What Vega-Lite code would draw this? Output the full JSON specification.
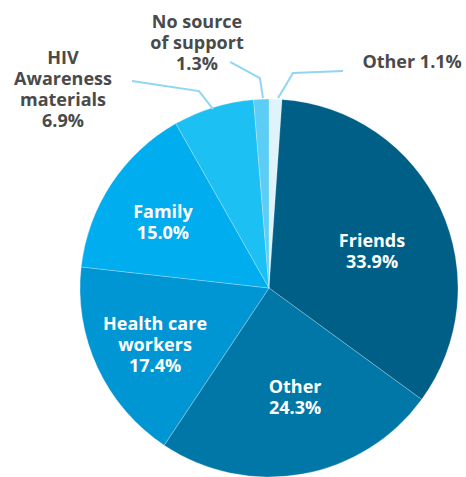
{
  "$schema": "https://vega.github.io/schema/vega-lite/v6.json",
  "width": 378,
  "height": 378,
  "autosize": {"type": "none"},
  "padding": {"left": 80, "top": 99, "right": 8, "bottom": 0},
  "background": "#ffffff",
  "config": {"view": {"stroke": null}, "text": {"font": "Open Sans"}},
  "datasets": {
    "slices": [
      {"key": "Other (small)", "share": 1.1, "rank": 1},
      {"key": "Friends", "share": 33.9, "rank": 2},
      {"key": "Other", "share": 24.3, "rank": 3},
      {"key": "Health care workers", "share": 17.4, "rank": 4},
      {"key": "Family", "share": 15.0, "rank": 5},
      {"key": "HIV Awareness materials", "share": 6.9, "rank": 6},
      {"key": "No source of support", "share": 1.3, "rank": 7}
    ],
    "labels": [
      {"text": "Friends\n33.9%", "u": 0.545, "v": 0.246, "placement": "inside"},
      {"text": "Other\n24.3%", "u": 0.138, "v": -0.529, "placement": "inside"},
      {"text": "Health care\nworkers\n17.4%", "u": -0.603, "v": -0.198, "placement": "inside"},
      {"text": "Family\n15.0%", "u": -0.561, "v": 0.397, "placement": "inside"},
      {"text": "HIV\nAwareness\nmaterials\n6.9%", "u": -1.09, "v": 1.209, "placement": "outside"},
      {"text": "No source\nof support\n1.3%", "u": -0.381, "v": 1.402, "placement": "outside"},
      {"text": "Other 1.1%", "u": 0.757, "v": 1.19, "placement": "outside"}
    ],
    "leaders": [
      {"slice": "No source", "seq": 1, "u": -0.206, "v": 1.196},
      {"slice": "No source", "seq": 2, "u": -0.048, "v": 1.111},
      {"slice": "No source", "seq": 3, "u": -0.032, "v": 1.005},
      {"slice": "Other small", "seq": 1, "u": 0.392, "v": 1.148},
      {"slice": "Other small", "seq": 2, "u": 0.127, "v": 1.138},
      {"slice": "Other small", "seq": 3, "u": 0.048, "v": 1.005},
      {"slice": "HIV", "seq": 1, "u": -0.725, "v": 1.095},
      {"slice": "HIV", "seq": 2, "u": -0.37, "v": 1.042},
      {"slice": "HIV", "seq": 3, "u": -0.296, "v": 0.947}
    ]
  },
  "layer": [
    {
      "data": {"name": "slices"},
      "mark": {"type": "arc", "stroke": "#ffffff", "strokeWidth": 0.4, "strokeOpacity": 0.6},
      "encoding": {
        "theta": {"field": "share", "type": "quantitative", "stack": true},
        "order": {"field": "rank", "type": "quantitative"},
        "color": {
          "field": "key",
          "type": "nominal",
          "legend": null,
          "scale": {
            "domain": ["Other (small)", "Friends", "Other", "Health care workers", "Family", "HIV Awareness materials", "No source of support"],
            "range": ["#dff3fb", "#005f87", "#0077a6", "#0096d4", "#00adee", "#1cc0f2", "#5ccdf5"]
          }
        }
      }
    },
    {
      "data": {"name": "leaders"},
      "mark": {"type": "line", "color": "#8fd6f3", "strokeWidth": 2},
      "encoding": {
        "x": {"field": "u", "type": "quantitative", "axis": null, "scale": {"domain": [-1, 1], "nice": false, "zero": false}},
        "y": {"field": "v", "type": "quantitative", "axis": null, "scale": {"domain": [-1, 1], "nice": false, "zero": false}},
        "detail": {"field": "slice"},
        "order": {"field": "seq", "type": "quantitative"}
      }
    },
    {
      "data": {"name": "labels"},
      "transform": [{"filter": "datum.placement === 'inside'"}],
      "mark": {"type": "text", "fontSize": 18, "fontWeight": "bold", "color": "#ffffff", "align": "center", "baseline": "middle", "lineBreak": "\n", "lineHeight": 21},
      "encoding": {
        "x": {"field": "u", "type": "quantitative", "axis": null, "scale": {"domain": [-1, 1], "nice": false, "zero": false}},
        "y": {"field": "v", "type": "quantitative", "axis": null, "scale": {"domain": [-1, 1], "nice": false, "zero": false}},
        "text": {"field": "text"}
      }
    },
    {
      "data": {"name": "labels"},
      "transform": [{"filter": "datum.placement === 'outside'"}],
      "mark": {"type": "text", "fontSize": 18, "fontWeight": "bold", "color": "#4a4a4a", "align": "center", "baseline": "middle", "lineBreak": "\n", "lineHeight": 21},
      "encoding": {
        "x": {"field": "u", "type": "quantitative", "axis": null, "scale": {"domain": [-1, 1], "nice": false, "zero": false}},
        "y": {"field": "v", "type": "quantitative", "axis": null, "scale": {"domain": [-1, 1], "nice": false, "zero": false}},
        "text": {"field": "text"}
      }
    }
  ]
}
